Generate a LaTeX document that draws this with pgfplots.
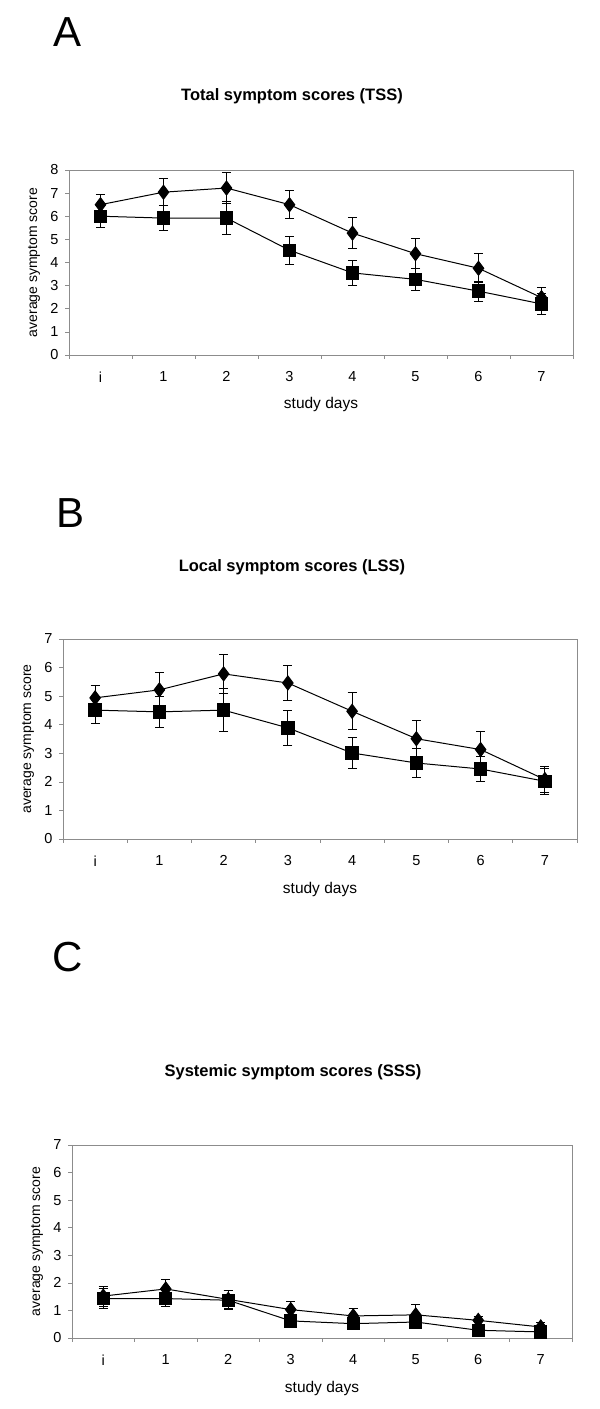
\documentclass[border=0pt]{standalone}
\usepackage{pgfplots}
\pgfplotsset{compat=1.18}
\usepackage{pgfplotstable}
\usepackage{fontspec}
\setmainfont{Liberation Sans}

\pgfplotstableread{
x y e
0 6.50 0.45
1 7.04 0.58
2 7.22 0.68
3 6.50 0.60
4 5.27 0.67
5 4.38 0.64
6 3.75 0.62
7 2.48 0.45
}\Adia
\pgfplotstableread{
x y e
0 6.00 0.50
1 5.92 0.55
2 5.92 0.70
3 4.53 0.60
4 3.55 0.53
5 3.27 0.48
6 2.76 0.44
7 2.21 0.44
}\Asq
\pgfplotstableread{
x y e
0 4.94 0.44
1 5.22 0.60
2 5.78 0.67
3 5.46 0.60
4 4.47 0.65
5 3.51 0.63
6 3.13 0.62
7 2.08 0.46
}\Bdia
\pgfplotstableread{
x y e
0 4.51 0.45
1 4.45 0.55
2 4.51 0.76
3 3.89 0.60
4 3.01 0.53
5 2.66 0.50
6 2.45 0.45
7 2.02 0.45
}\Bsq
\pgfplotstableread{
x y e
0 1.52 0.36
1 1.78 0.35
2 1.40 0.33
3 1.03 0.28
4 0.80 0.26
5 0.84 0.37
6 0.64 0.15
7 0.40 0.18
}\Cdia
\pgfplotstableread{
x y e
0 1.43 0.36
1 1.43 0.30
2 1.37 0.35
3 0.62 0.20
4 0.52 0.20
5 0.58 0.22
6 0.28 0.15
7 0.22 0.15
}\Csq

\pgfplotsset{
  panel/.style={
    scale only axis,
    xmin=-0.5, xmax=7.5,
    xtick={0,...,7},
    xticklabels={\mbox{i},\mbox{1},\mbox{2},\mbox{3},\mbox{4},\mbox{5},\mbox{6},\mbox{7}},
    minor xtick={-0.5,0.5,...,7.5},
    major x tick style={draw=none},
    minor x tick style={black!45, line width=0.7bp},
    y tick style={black!45, line width=0.7bp},
    major tick length=4bp, minor tick length=4bp,
    tick align=outside, tick pos=left,
    axis line style={black!45, line width=0.9bp},
    /pgf/number format/assume math mode=true,
    tick label style={font=\fontsize{14.5bp}{16bp}\selectfont, black},
    xticklabel style={yshift=-9bp},
    yticklabel style={xshift=-3bp},
    xlabel={study days},
    ylabel={average symptom score},
    xlabel style={font=\fontsize{15.5bp}{17bp}\selectfont, at={(axis description cs:0.5,0)}, anchor=center, yshift=-50bp},
    ylabel style={font=\fontsize{14bp}{16bp}\selectfont, at={(axis description cs:0,0.5)}, anchor=center, yshift=35bp},
    every axis plot/.append style={line width=1bp, black},
    clip=false,
  },
  dia/.style={mark=diamond*, mark size=7bp, mark options={solid, fill=black},
    error bars/.cd, y dir=both, y explicit,
    error bar style={line width=0.9bp, black},
    error mark options={rotate=90, mark size=4.5bp, line width=0.9bp, black}},
  sq/.style={mark=square*, mark size=6.2bp, mark options={solid, fill=black},
    error bars/.cd, y dir=both, y explicit,
    error bar style={line width=0.9bp, black},
    error mark options={rotate=90, mark size=4.5bp, line width=0.9bp, black}},
}

\begin{document}
\begin{tikzpicture}
\path[use as bounding box] (0bp,0bp) rectangle (600bp,1409bp);

% Panel A
\node[font=\fontsize{42bp}{44bp}\selectfont] at (68bp,1377bp) {A};
\node[font=\fontsize{16.5bp}{18bp}\selectfont\bfseries] at (292bp,1313bp) {Total symptom scores (TSS)};
\begin{axis}[panel, at={(69bp,1054bp)}, anchor=south west, width=504bp, height=185bp,
  ymin=0, ymax=8, ytick={0,...,8}]
\addplot[dia] table[x=x, y=y, y error=e] {\Adia};
\addplot[sq] table[x=x, y=y, y error=e] {\Asq};
\end{axis}

% Panel B
\node[font=\fontsize{42bp}{44bp}\selectfont] at (71bp,896bp) {B};
\node[font=\fontsize{16.5bp}{18bp}\selectfont\bfseries] at (292bp,842bp) {Local symptom scores (LSS)};
\begin{axis}[panel, at={(63bp,570bp)}, anchor=south west, width=514bp, height=200bp,
  ymin=0, ymax=7, ytick={0,...,7}]
\addplot[dia] table[x=x, y=y, y error=e] {\Bdia};
\addplot[sq] table[x=x, y=y, y error=e] {\Bsq};
\end{axis}

% Panel C
\node[font=\fontsize{42bp}{44bp}\selectfont] at (68bp,452bp) {C};
\node[font=\fontsize{16.5bp}{18bp}\selectfont\bfseries] at (293bp,337bp) {Systemic symptom scores (SSS)};
\begin{axis}[panel, at={(72bp,71bp)}, anchor=south west, width=500bp, height=193bp,
  ymin=0, ymax=7, ytick={0,...,7}]
\addplot[dia] table[x=x, y=y, y error=e] {\Cdia};
\addplot[sq] table[x=x, y=y, y error=e] {\Csq};
\end{axis}
\end{tikzpicture}
\end{document}
